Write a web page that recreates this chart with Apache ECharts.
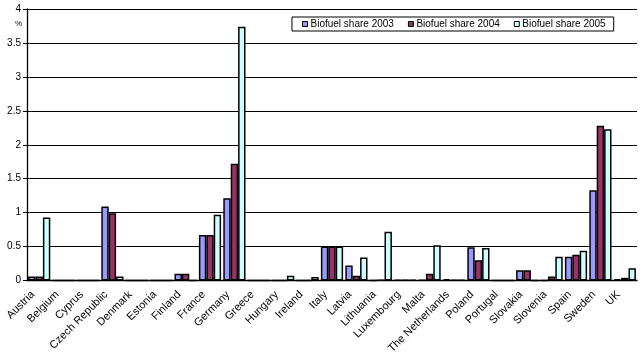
<!DOCTYPE html>
<html>
<head>
<meta charset="utf-8">
<script src="https://cdn.jsdelivr.net/npm/echarts@6/dist/echarts.min.js"></script>
<style>html,body{margin:0;padding:0;background:#fff}#c{width:644px;height:358px}</style>
</head>
<body>
<div id="c"></div>
<script>
const categories = ["Austria","Belgium","Cyprus","Czech Republic","Denmark","Estonia","Finland","France","Germany","Greece","Hungary","Ireland","Italy","Latvia","Lithuania","Luxembourg","Malta","The Netherlands","Poland","Portugal","Slovakia","Slovenia","Spain","Sweden","UK"];
const share2003 = [0.06,0,0,1.09,0,0,0.10,0.67,1.21,0,0,0,0.50,0.22,0,0.01,0.01,0.02,0.49,0,0.15,0,0.35,1.33,0.02];
const share2004 = [0.06,0,0,0.99,0,0,0.10,0.67,1.72,0,0,0,0.50,0.07,0.01,0.01,0.10,0.01,0.30,0,0.15,0.06,0.38,2.28,0.04];
const share2005 = [0.93,0,0,0.06,0,0,0,0.97,3.74,0,0.07,0.05,0.50,0.34,0.72,0.01,0.52,0.01,0.48,0,0,0.35,0.44,2.23,0.18];
const seriesNames = ["Biofuel share 2003","Biofuel share 2004","Biofuel share 2005"];
const yTicks = {min:0, max:4, interval:0.5};

const chart = echarts.init(document.getElementById('c'), null, {renderer:'canvas'});
const colors = ['#9999FF','#993366','#CCFFFF'];
const font = 'Arial, "Liberation Sans", sans-serif';
function mk(name, data, i){
  return {
    name: name, type:'bar', data: data,
    barGap: '0%', barCategoryGap: '9%',
    itemStyle:{color: colors[i], borderColor:'#000', borderWidth:1.5},
    emphasis:{disabled:true}
  };
}
chart.setOption({
  animation:false,
  backgroundColor:'#fff',
  grid:{left:27, right:7, top:9, bottom:77.5, containLabel:false},
  legend:{
    left:292, top:17, width:331,
    padding:[2,8,2,10],
    icon:'rect',
    itemWidth:5, itemHeight:5, itemGap:14,
    borderColor:'#000', borderWidth:1, backgroundColor:'#fff',
    itemStyle:{borderColor:'#000', borderWidth:1},
    textStyle:{fontFamily:font, fontSize:10, color:'#000', padding:[0,0,0,-2]},
    data: seriesNames
  },
  xAxis:{
    type:'category', data: categories,
    axisLine:{lineStyle:{color:'#000', width:1.3}},
    axisTick:{show:false},
    axisLabel:{interval:0, rotate:45, fontFamily:font, fontSize:11, color:'#000', margin:6, padding:[0,9,0,0]}
  },
  yAxis:{
    type:'value', min:yTicks.min, max:yTicks.max, interval:yTicks.interval,
    axisLine:{show:true, lineStyle:{color:'#000', width:1.3}},
    axisTick:{show:true, length:4, lineStyle:{color:'#000'}},
    splitLine:{lineStyle:{color:'#000', width:1.2}},
    axisLabel:{fontFamily:font, fontSize:10, color:'#000', margin:6}
  },
  graphic:[{type:'text', left:15, top:20, style:{text:'%', fontFamily:font, fontSize:8, fill:'#000'}}],
  series:[mk(seriesNames[0],share2003,0), mk(seriesNames[1],share2004,1), mk(seriesNames[2],share2005,2)]
});
</script>
</body>
</html>
